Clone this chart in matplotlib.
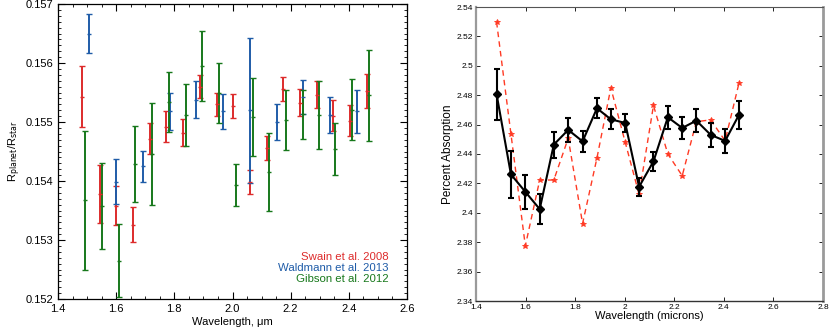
import matplotlib
matplotlib.use("Agg")
import matplotlib.pyplot as plt
from matplotlib.ticker import MultipleLocator
import numpy as np

plt.rcParams['font.family'] = ['Liberation Sans', 'DejaVu Sans']

# ---- Left panel data ----
swain_wl = [1.484, 1.543, 1.601, 1.658, 1.716, 1.772, 1.829, 1.887, 1.945, 2.002,
            2.059, 2.118, 2.175, 2.232, 2.291, 2.347, 2.405, 2.462]
swain_val = [0.15543, 0.15378, 0.15358, 0.15326, 0.15472, 0.15492, 0.15482, 0.15560,
             0.15530, 0.15527, 0.15398, 0.15456, 0.15556, 0.15533, 0.15546, 0.15511,
             0.15502, 0.15553]
swain_err = [0.00052, 0.00049, 0.00033, 0.00030, 0.00026, 0.00026, 0.00023, 0.00020,
             0.00020, 0.00020, 0.00020, 0.00020, 0.00020, 0.00023, 0.00023, 0.00026,
             0.00026, 0.00029]

wald_wl = [1.508, 1.600, 1.692, 1.785, 1.876, 1.968, 2.060, 2.152, 2.244, 2.336, 2.428]
wald_val = [0.15650, 0.15399, 0.15425, 0.15518, 0.15538, 0.15518, 0.15520, 0.15500,
            0.15543, 0.15512, 0.15518]
wald_err = [0.00033, 0.00038, 0.00026, 0.00031, 0.00031, 0.00030, 0.00123, 0.00030,
            0.00029, 0.00030, 0.00037]

gib_wl = [1.494, 1.552, 1.609, 1.666, 1.724, 1.781, 1.839, 1.896, 1.953, 2.011,
          2.069, 2.126, 2.183, 2.241, 2.297, 2.353, 2.410, 2.468]
gib_val = [0.15367, 0.15358, 0.15265, 0.15429, 0.15446, 0.15534, 0.15512, 0.15595,
           0.15549, 0.15393, 0.15508, 0.15416, 0.15504, 0.15513, 0.15512, 0.15455,
           0.15521, 0.15545]
gib_err = [0.00118, 0.00073, 0.00062, 0.00064, 0.00087, 0.00051, 0.00053, 0.00060,
           0.00051, 0.00036, 0.00066, 0.00066, 0.00051, 0.00042, 0.00058, 0.00044,
           0.00052, 0.00077]

legend_labels = ["Swain et al. 2008", "Waldmann et al. 2013", "Gibson et al. 2012"]

# ---- Right panel data ----
abs_wl = [1.483, 1.541, 1.599, 1.657, 1.714, 1.772, 1.830, 1.888, 1.944, 2.002,
          2.058, 2.116, 2.174, 2.232, 2.289, 2.347, 2.405, 2.461]
abs_val = [2.4807, 2.4261, 2.4143, 2.4025, 2.4464, 2.4564, 2.4486, 2.4711, 2.4636,
           2.4611, 2.4177, 2.4350, 2.4650, 2.4577, 2.4627, 2.4530, 2.4489, 2.4666]
abs_err = [0.0174, 0.0160, 0.0114, 0.0103, 0.0088, 0.0084, 0.0073, 0.0069, 0.0068,
           0.0061, 0.0061, 0.0063, 0.0077, 0.0078, 0.0078, 0.0083, 0.0082, 0.0097]
model_val = [2.5298, 2.4536, 2.3775, 2.4223, 2.4223, 2.4507, 2.3927, 2.4373, 2.4850,
             2.4480, 2.4125, 2.4730, 2.4400, 2.4252, 2.4620, 2.4632, 2.4490, 2.4882]

red = '#dd2b2b'
blue = '#1f5ca8'
green = '#17781b'

fig = plt.figure(figsize=(8.31, 3.28), dpi=100)

# ---------- Left ----------
ax1 = fig.add_axes([58/831, 1-299/328, 349/831, 295/328])
for wl, val, err, c in [(swain_wl, swain_val, swain_err, red),
                        (wald_wl, wald_val, wald_err, blue),
                        (gib_wl, gib_val, gib_err, green)]:
    ax1.errorbar(wl, val, yerr=err, fmt='_', color=c, ms=3, mew=1.0,
                 elinewidth=1.4, capsize=2.0, capthick=1.4, ls='none')
ax1.set_xlim(1.4, 2.6)
ax1.set_ylim(0.152, 0.157)
ax1.xaxis.set_major_locator(MultipleLocator(0.2))
ax1.xaxis.set_minor_locator(MultipleLocator(0.05))
ax1.yaxis.set_major_locator(MultipleLocator(0.001))
ax1.yaxis.set_minor_locator(MultipleLocator(0.0001))
ax1.xaxis.set_major_formatter(matplotlib.ticker.FormatStrFormatter('%.1f'))
ax1.yaxis.set_major_formatter(matplotlib.ticker.FormatStrFormatter('%.3f'))
ax1.tick_params(which='both', direction='in', top=True, right=True, labelsize=8)
ax1.tick_params(which='major', length=5, width=0.8)
ax1.tick_params(which='minor', length=2.5, width=0.6)
ax1.set_xlabel('Wavelength, \u03bcm', fontsize=8, labelpad=2)
ax1.set_ylabel(r'R$_{\rm planet}$/R$_{\rm star}$', fontsize=8, labelpad=2)
for sp in ax1.spines.values():
    sp.set_linewidth(0.9)
for i, (lab, c) in enumerate(zip(legend_labels, [red, blue, green])):
    ax1.text(0.946, 0.142 - i*0.037, lab, color=c, fontsize=8.2,
             ha='right', va='center', transform=ax1.transAxes)

# ---------- Right ----------
ax2 = fig.add_axes([476/831, 1-301/328, 347/831, 294/328])
ax2.plot(abs_wl, model_val, ls='--', color='#ff3a24', lw=1.0, marker='*',
         ms=4, mew=0.6, dashes=(4, 3))
ax2.errorbar(abs_wl, abs_val, yerr=abs_err, color='black', lw=1.5, marker='D',
             ms=4, elinewidth=1.5, capsize=2.5, capthick=1.5)
ax2.set_xlim(1.4, 2.8)
ax2.set_ylim(2.34, 2.54)
ax2.set_xticks(np.arange(1.4, 2.81, 0.2))
ax2.set_xticklabels(['1.4', '1.6', '1.8', '2', '2.2', '2.4', '2.6', '2.8'])
ax2.set_yticks(np.arange(2.34, 2.541, 0.02))
ax2.set_yticklabels(['2.34', '2.36', '2.38', '2.4', '2.42', '2.44', '2.46',
                     '2.48', '2.5', '2.52', '2.54'])
ax2.tick_params(direction='in', top=True, right=True, labelsize=6,
                length=3, width=0.6, pad=2)
ax2.set_xlabel('Wavelength (microns)', fontsize=8, labelpad=0)
ax2.set_ylabel('Percent Absorption', fontsize=8.5, labelpad=2)
ax2.spines['left'].set_color('#9a9a9a')
ax2.spines['left'].set_linewidth(1.6)
ax2.spines['right'].set_color('#9a9a9a')
ax2.spines['right'].set_linewidth(2.0)
ax2.spines['top'].set_color('#555555')
ax2.spines['top'].set_linewidth(0.8)
ax2.spines['bottom'].set_color('#333333')
ax2.spines['bottom'].set_linewidth(1.0)

fig.savefig('out.png', dpi=100)
